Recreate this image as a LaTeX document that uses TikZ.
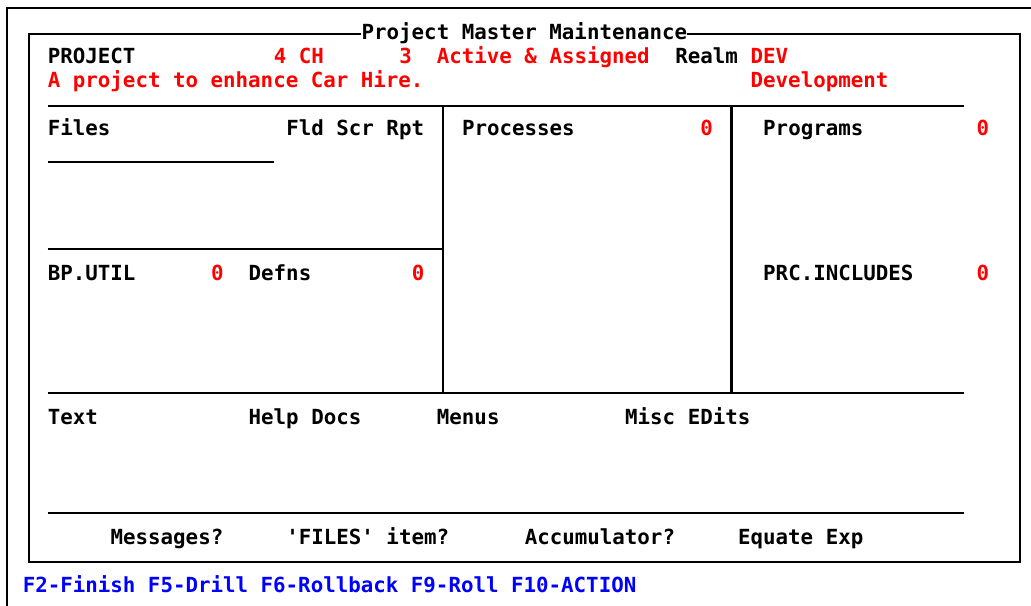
\documentclass[tikz,border=0pt]{standalone}
\usepackage{fontspec}
\setmonofont{DejaVu Sans Mono}
\definecolor{scrred}{RGB}{255,0,0}
\definecolor{scrblue}{RGB}{0,0,255}

\begin{document}
\begin{tikzpicture}[x=0.75pt, y=-0.75pt,
    txt/.style={anchor=base west, inner sep=0pt, font=\ttfamily\bfseries\fontsize{15.6}{18}\selectfont},
    val/.style={txt, text=scrred},
    fkey/.style={txt, text=scrblue},
    frame/.style={line width=1.8pt}]
\useasboundingbox (0,0) rectangle (1031,606);
% window edge
\draw[line width=2.2pt] (1031,8) -- (7,8) -- (7,606);
% screen box and title
\coordinate (tl) at (28.8,34);
\coordinate (br) at (1020,562);
\node[txt] (title) at (361.35,40) {Project Master Maintenance};
\draw[frame] (title.west |- tl) -- (tl) |- (br) |- (title.east |- tl);
% header
\node[txt] (proj) at (47.6,64) {PROJECT};
\node[val] (projid) at (273.5,64) {4 CH};
\node[val] (status) at (399,64) {3\ \ Active \& Assigned};
\node[txt] (realm) at (675.1,64) {Realm};
\node[val] (realmid) at (750.4,64) {DEV};
\node[val] (descr) at (47.6,88) {A project to enhance Car Hire.};
\node[val] (realmdescr) at (750.4,88) {Development};
% panel rules
\draw[frame] (47.6,106) -- (963.75,106);
\draw[frame] (47.6,249) -- (443,249);
\draw[frame] (47.6,393) -- (963.75,393);
\draw[frame] (47.6,513) -- (963.75,513);
\draw[frame] (443,106) -- (443,393);
\draw[frame] (731.6,106) -- (731.6,393);
\draw[frame] (47.6,162) -- (273.5,162);
% files / processes / programs
\node[txt] (files) at (47.6,136) {Files};
\node[txt] (fsr) at (286.05,136) {Fld Scr Rpt};
\node[txt] (procs) at (461.75,136) {Processes};
\node[val] (procsn) at (700.2,136) {0};
\node[txt] (progs) at (762.95,136) {Programs};
\node[val] (progsn) at (976.3,136) {0};
\node[txt] (bputil) at (47.6,280) {BP.UTIL};
\node[val] (bputiln) at (210.75,280) {0};
\node[txt] (defns) at (248.4,280) {Defns};
\node[val] (defnsn) at (411.55,280) {0};
\node[txt] (prcinc) at (762.95,280) {PRC.INCLUDES};
\node[val] (prcincn) at (976.3,280) {0};
% lower panel
\node[txt] (text) at (47.6,424) {Text};
\node[txt] (help) at (248.4,424) {Help Docs};
\node[txt] (menus) at (436.65,424) {Menus};
\node[txt] (misc) at (624.9,424) {Misc EDits};
\node[txt] (msgs) at (110.35,544) {Messages?};
\node[txt] (item) at (286.05,544) {'FILES' item?};
\node[txt] (accum) at (524.5,544) {Accumulator?};
\node[txt] (equate) at (737.85,544) {Equate Exp};
% function keys
\node[fkey] (keys) at (22.5,592) {F2-Finish F5-Drill F6-Rollback F9-Roll F10-ACTION};
\end{tikzpicture}
\end{document}
